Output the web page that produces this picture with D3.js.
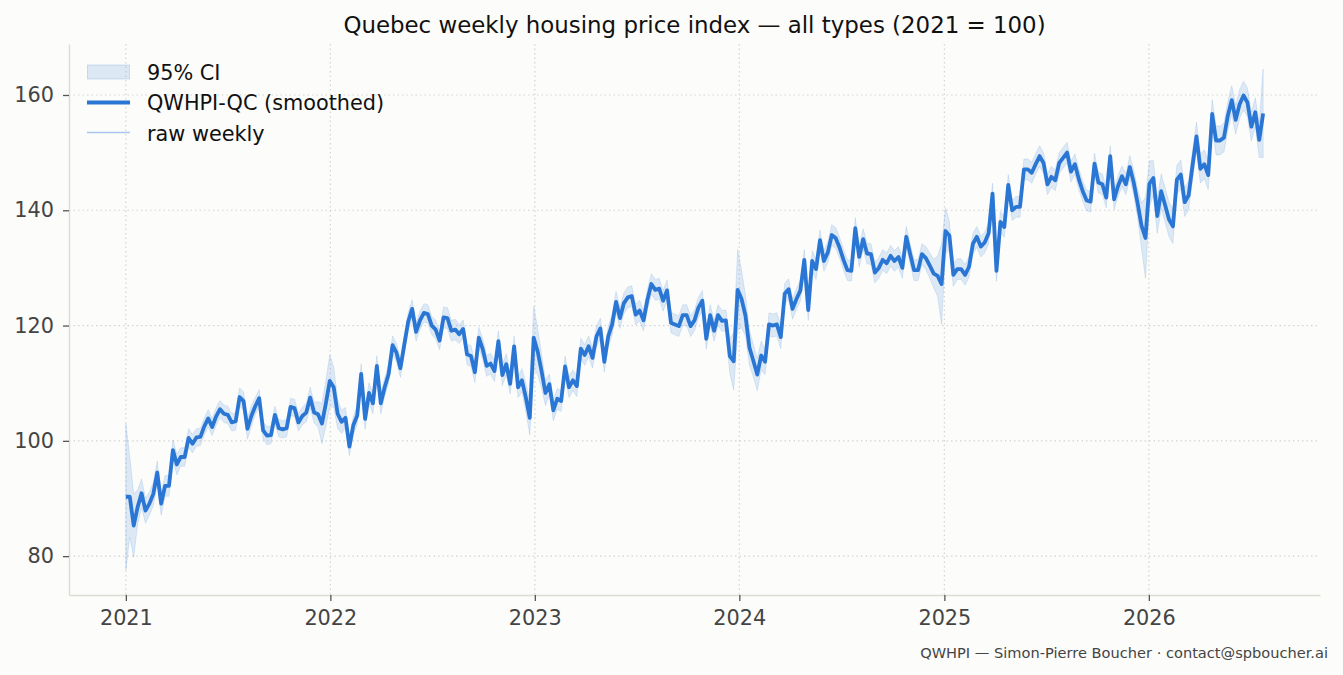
<!DOCTYPE html>
<html>
<head>
<meta charset="utf-8">
<script src="https://cdn.jsdelivr.net/npm/d3@7"></script>
<style>
  body { margin: 0; background: #fcfcfa; }
  text { font-family: "DejaVu Sans", sans-serif; }
</style>
</head>
<body>
<div id="chart"></div>
<script>
// weekly index, first observation 2021-01-01, one value per week
const startDate = "2021-01-01";

const values2021 = [90.3, 90.3, 85.3, 88.5, 90.9, 87.9, 89.1, 90.8, 94.5, 89.1,
  92.2, 92.2, 98.4, 95.9, 97.2, 97.2, 100.5, 99.5, 100.6, 100.7,
  102.5, 103.9, 102.4, 104.2, 105.5, 104.7, 104.5, 103.2, 103.4, 107.6,
  106.9, 102.1, 104.3, 106.0, 107.4, 101.8, 100.9, 101.0, 104.5, 102.2,
  102.0, 102.2, 105.9, 105.7, 103.2, 104.3, 104.9, 107.5, 104.9, 104.6,
  103.0, 106.5];
const values2022 = [110.4, 109.3, 104.7, 103.3, 104.0, 99.0, 102.7, 104.4, 111.6, 103.8,
  108.3, 106.5, 113.0, 106.5, 109.3, 111.6, 116.6, 115.3, 112.6, 116.7,
  120.7, 122.9, 118.9, 120.9, 122.2, 122.0, 120.0, 119.3, 117.4, 121.4,
  121.3, 119.1, 119.3, 118.5, 119.4, 115.0, 114.7, 111.9, 117.9, 115.9,
  113.0, 113.4, 112.1, 117.3, 111.4, 113.3, 109.9, 116.4, 109.3, 110.5,
  107.5, 104.0];
const values2023 = [117.9, 115.5, 112.1, 108.3, 109.8, 105.3, 107.3, 106.9, 112.9, 109.3,
  110.5, 109.5, 116.0, 114.9, 116.4, 114.4, 118.1, 119.5, 113.7, 118.1,
  120.2, 124.1, 121.3, 123.9, 124.9, 125.1, 121.9, 122.6, 120.9, 124.5,
  127.2, 126.2, 126.4, 124.3, 126.1, 120.5, 120.2, 119.9, 121.8, 121.8,
  119.9, 120.9, 123.1, 124.3, 117.7, 121.8, 119.1, 121.8, 120.8, 120.9,
  114.7, 113.8];
const values2024 = [126.2, 124.6, 121.7, 116.2, 113.9, 111.5, 114.8, 113.7, 120.2, 120.0,
  120.2, 118.0, 125.5, 126.3, 122.9, 124.6, 126.1, 131.4, 122.7, 131.2,
  129.8, 134.8, 131.2, 132.7, 135.7, 135.2, 133.5, 131.4, 129.6, 129.5,
  136.9, 131.9, 135.0, 132.5, 132.4, 129.2, 130.0, 131.4, 130.8, 132.1,
  131.2, 131.9, 130.0, 135.4, 132.4, 129.6, 129.6, 132.4, 131.7, 130.4,
  129.0, 128.6];
const values2025 = [127.2, 136.4, 135.6, 128.8, 129.8, 129.8, 128.8, 130.2, 134.2, 135.4,
  133.7, 134.4, 136.0, 142.9, 129.5, 138.0, 137.1, 144.4, 140.0, 140.6,
  140.6, 147.1, 147.1, 146.5, 148.0, 149.4, 148.2, 144.5, 145.8, 145.2,
  148.2, 149.1, 150.0, 146.7, 148.0, 145.4, 143.3, 141.7, 141.5, 148.1,
  144.8, 144.5, 142.2, 149.4, 141.9, 144.2, 145.9, 144.5, 147.5, 144.8,
  141.2, 137.3];
const values2026 = [135.2, 144.6, 145.6, 139.0, 143.3, 140.9, 138.4, 137.2, 145.3, 146.2,
  141.4, 142.6, 147.8, 152.8, 147.2, 148.0, 146.1, 156.7, 152.1, 152.1,
  152.6, 156.4, 159.1, 155.7, 158.4, 159.9, 158.7, 154.5, 157.0, 152.2,
  156.8];

// half width of the 95% band
const ci2021 = [12.7, 7, 5.5, 3, 2.5, 2.2, 2, 2, 2, 2,
  1.8, 1.8, 1.8, 1.8, 1.6, 1.6, 1.6, 1.6, 1.5, 1.5,
  1.5, 1.5, 1.5, 1.5, 1.5, 1.5, 1.5, 1.5, 1.5, 1.6,
  1.6, 1.8, 1.8, 1.5, 1.5, 1.5, 1.6, 1.5, 1.5, 1.5,
  1.5, 1.5, 1.5, 1.5, 1.5, 1.5, 1.6, 1.8, 1.8, 2.2,
  3.5, 4];
const ci2022 = [4.5, 3.5, 2.5, 2, 1.8, 1.6, 1.6, 1.6, 1.8, 1.8,
  1.8, 1.8, 1.8, 1.8, 1.6, 1.6, 1.6, 1.6, 1.6, 1.6,
  1.6, 1.6, 1.6, 1.6, 1.6, 1.6, 1.6, 1.6, 1.6, 1.8,
  1.8, 1.8, 1.8, 1.6, 1.6, 1.8, 1.8, 1.8, 1.8, 1.8,
  1.8, 1.8, 1.8, 1.8, 1.8, 1.8, 1.8, 1.8, 1.8, 2,
  2.5, 3];
const ci2023 = [5.5, 4, 3, 2.2, 1.8, 1.8, 1.8, 1.8, 1.8, 1.8,
  1.8, 1.8, 1.8, 1.8, 1.8, 1.8, 1.8, 1.8, 1.8, 1.8,
  1.8, 1.8, 1.8, 1.8, 1.8, 1.8, 1.8, 1.8, 1.8, 1.8,
  1.8, 1.8, 1.8, 1.8, 1.8, 1.8, 1.8, 1.8, 1.8, 1.8,
  1.8, 1.8, 1.8, 1.8, 1.8, 1.8, 1.8, 1.8, 1.8, 1.8,
  3, 5];
const ci2024 = [7, 5, 3.5, 3, 2.8, 2.8, 2.5, 2.2, 2, 2,
  2, 2, 1.8, 1.8, 1.8, 1.8, 1.8, 1.8, 1.8, 1.8,
  1.8, 1.8, 1.8, 1.8, 1.8, 1.8, 1.8, 1.8, 1.8, 1.8,
  1.8, 1.8, 1.8, 1.8, 1.8, 1.8, 1.8, 1.8, 1.8, 1.8,
  1.8, 1.8, 1.8, 1.8, 1.8, 1.8, 1.8, 1.8, 2, 2.2,
  2.5, 3.5];
const ci2025 = [7, 4, 2.5, 2, 1.8, 1.8, 1.8, 1.8, 1.8, 1.8,
  1.8, 1.8, 1.8, 1.8, 1.8, 1.8, 1.8, 1.8, 1.8, 1.8,
  1.8, 1.8, 1.8, 1.8, 1.8, 1.8, 1.8, 1.8, 1.8, 1.8,
  1.8, 1.8, 1.8, 1.8, 1.8, 1.8, 1.8, 1.8, 1.8, 1.8,
  1.8, 1.8, 1.8, 1.8, 1.8, 1.8, 1.8, 1.8, 2, 2.2,
  2.5, 4];
const ci2026 = [7, 4, 3, 3, 3, 3, 3, 3, 2.5, 2.5,
  2.5, 2.5, 2.5, 2.5, 2.5, 2.5, 2.5, 2.5, 2.5, 2.5,
  2.5, 2.5, 2.5, 2.5, 2.5, 2.5, 2.5, 2.5, 2.5, 3,
  7.7];

const yTicks = [80, 100, 120, 140, 160];
const legendLabels = ["95% CI", "QWHPI-QC (smoothed)", "raw weekly"];
const title = "Quebec weekly housing price index \u2014 all types (2021 = 100)";
const footer = "QWHPI \u2014 Simon-Pierre Boucher \u00b7 contact@spboucher.ai";

const smoothed = [].concat(values2021, values2022, values2023, values2024, values2025, values2026);
const ciHalf = [].concat(ci2021, ci2022, ci2023, ci2024, ci2025, ci2026);

const t0 = d3.isoParse(startDate);
const data = smoothed.map((v, i) => ({
  date: d3.timeDay.offset(t0, 7 * i),
  value: v,
  lo: v - ciHalf[i],
  hi: v + ciHalf[i]
}));

const width = 1343;
const height = 675;
const plotLeft = 69, plotRight = 1320, plotTop = 44, plotBottom = 595;

const blue = "#2a76d4";

// matplotlib-like 5% margins
const xExt = d3.extent(data, d => d.date);
const xPad = (xExt[1] - xExt[0]) * 0.05;
const x = d3.scaleTime()
  .domain([new Date(+xExt[0] - xPad), new Date(+xExt[1] + xPad)])
  .range([plotLeft, plotRight]);

const yMin = d3.min(data, d => d.lo);
const yMax = d3.max(data, d => d.hi);
const yPad = (yMax - yMin) * 0.05;
const y = d3.scaleLinear()
  .domain([yMin - yPad, yMax + yPad])
  .range([plotBottom, plotTop]);

const svg = d3.select('#chart')
  .append('svg')
  .attr('width', width)
  .attr('height', height);

svg.append('rect')
  .attr('width', width)
  .attr('height', height)
  .attr('fill', '#fcfcfa');

// grid
const yearTicks = x.ticks(d3.timeYear.every(1)).filter(d => d >= d3.timeDay.offset(xExt[0], -1));

svg.append('g')
  .selectAll('line')
  .data(yTicks)
  .enter()
  .append('line')
  .attr('x1', plotLeft)
  .attr('x2', plotRight)
  .attr('y1', d => y(d))
  .attr('y2', d => y(d))
  .attr('stroke', '#d4d4d4')
  .attr('stroke-width', 1.2)
  .attr('stroke-dasharray', '1.5,3');

svg.append('g')
  .selectAll('line')
  .data(yearTicks)
  .enter()
  .append('line')
  .attr('x1', d => x(d))
  .attr('x2', d => x(d))
  .attr('y1', plotTop)
  .attr('y2', plotBottom)
  .attr('stroke', '#d4d4d4')
  .attr('stroke-width', 1.2)
  .attr('stroke-dasharray', '1.5,3');

// confidence band
const band = d3.area()
  .x(d => x(d.date))
  .y0(d => y(d.lo))
  .y1(d => y(d.hi));

svg.append('path')
  .datum(data)
  .attr('d', band)
  .attr('fill', '#2a76d4')
  .attr('fill-opacity', 0.15)
  .attr('stroke', '#2a76d4')
  .attr('stroke-opacity', 0.14)
  .attr('stroke-width', 1);

const line = d3.line()
  .x(d => x(d.date))
  .y(d => y(d.value));

// raw weekly sits under the smoothed line, hardly distinguishable at this scale
svg.append('path')
  .datum(data)
  .attr('d', line)
  .attr('fill', 'none')
  .attr('stroke', '#a9c6ee')
  .attr('stroke-width', 1.3);

svg.append('path')
  .datum(data)
  .attr('d', line)
  .attr('fill', 'none')
  .attr('stroke', blue)
  .attr('stroke-width', 3.8)
  .attr('stroke-linejoin', 'round');

// axes
const yAxis = svg.append('g')
  .attr('transform', `translate(${plotLeft},0)`)
  .call(d3.axisLeft(y).tickValues(yTicks).tickSize(6).tickPadding(9).tickSizeOuter(0));

const xAxis = svg.append('g')
  .attr('transform', `translate(0,${plotBottom})`)
  .call(d3.axisBottom(x).tickValues(yearTicks).tickFormat(d3.timeFormat('%Y'))
    .tickSize(6).tickPadding(9).tickSizeOuter(0));

[yAxis, xAxis].forEach(a => {
  a.select('.domain').attr('stroke', '#dcdcd5').attr('stroke-width', 1.4);
  a.selectAll('.tick line').attr('stroke', '#555').attr('stroke-width', 1.3);
  a.selectAll('.tick text')
    .attr('fill', '#444')
    .style('font-size', '20.8px')
    .style('font-family', '"DejaVu Sans", sans-serif');
});

// title and footer
svg.append('text')
  .text(title)
  .attr('x', (plotLeft + plotRight) / 2)
  .attr('y', 33)
  .attr('text-anchor', 'middle')
  .attr('fill', '#111')
  .style('font-size', '22.9px');

svg.append('text')
  .text(footer)
  .attr('x', 1328)
  .attr('y', 658)
  .attr('text-anchor', 'end')
  .attr('fill', '#444')
  .style('font-size', '14.6px');

// legend
const legend = svg.append('g')
  .attr('transform', 'translate(87,0)');

legend.append('rect')
  .attr('x', 0.5)
  .attr('y', 65)
  .attr('width', 42)
  .attr('height', 14)
  .attr('fill', '#2a76d4')
  .attr('fill-opacity', 0.15)
  .attr('stroke', '#2a76d4')
  .attr('stroke-opacity', 0.2);

legend.append('line')
  .attr('x1', 0).attr('x2', 43)
  .attr('y1', 102.5).attr('y2', 102.5)
  .attr('stroke', blue)
  .attr('stroke-width', 3.8);

legend.append('line')
  .attr('x1', 0).attr('x2', 43)
  .attr('y1', 132.5).attr('y2', 132.5)
  .attr('stroke', '#a9c6ee')
  .attr('stroke-width', 1.6);

legend.selectAll('text')
  .data(legendLabels)
  .enter()
  .append('text')
  .text(d => d)
  .attr('x', 60)
  .attr('y', (d, i) => 80 + i * 30.4)
  .attr('fill', '#111')
  .style('font-size', '20.8px');
</script>
</body>
</html>
